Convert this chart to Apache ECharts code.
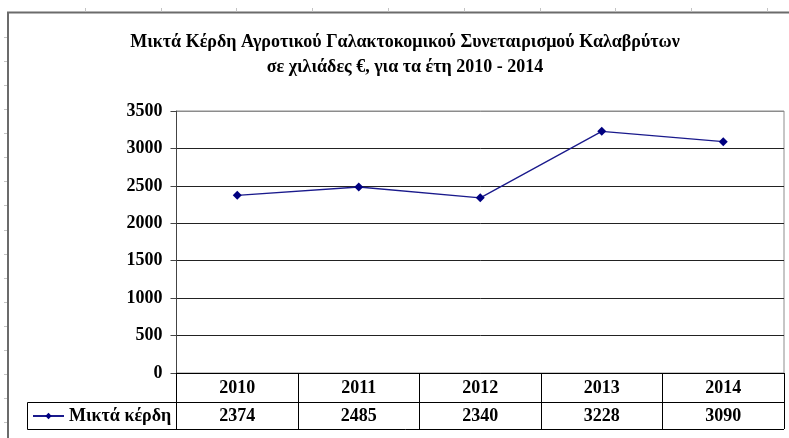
<!DOCTYPE html>
<html><head><meta charset="utf-8">
<script src="https://cdn.jsdelivr.net/npm/echarts@6/dist/echarts.min.js"></script>
<style>html,body{margin:0;padding:0;background:#fff}#c{width:789px;height:438px}</style>
</head><body><div id="c"></div>
<script>
const titleLines = ['Μικτά Κέρδη Αγροτικού Γαλακτοκομικού Συνεταιρισμού Καλαβρύτων', 'σε χιλιάδες €, για τα έτη 2010 - 2014'];
const years = ['2010', '2011', '2012', '2013', '2014'];
const seriesName = 'Μικτά κέρδη';
const values = [2374, 2485, 2340, 3228, 3090];
const yMin = 0, yMax = 3500, yStep = 500;

const FONT = '"Liberation Serif", "Times New Roman", serif';
const FS = 18;
const W = 789, H = 438;
const G = { left: 176.5, right: 5, top: 111, bottom: 65 };
const gridBottomY = H - G.bottom;          // 373
const rowH = 28;
const tableLeft = 27;
const tableRight = W - G.right;

const chart = echarts.init(document.getElementById('c'), null, { renderer: 'canvas' });

// decorations: frame + spreadsheet stubs
const deco = [];
deco.push({ type: 'polyline', silent: true, shape: { points: [[8, H], [8, 12.5], [W, 12.5]] }, style: { stroke: '#6b6b6b', lineWidth: 2, fill: null } });
for (let k = 1; k <= 10; k++) {
  const x = Math.round(9 + 75.8 * k) + 0.5;
  deco.push({ type: 'line', silent: true, shape: { x1: x, y1: 8, x2: x, y2: 11.5 }, style: { stroke: '#c4c4c4', lineWidth: 1 } });
}
for (let k = 0; k < 17; k++) {
  const y = Math.round(36.7 + 24.1 * k) + 0.5;
  deco.push({ type: 'line', silent: true, shape: { x1: 4, y1: y, x2: 7, y2: y }, style: { stroke: '#c4c4c4', lineWidth: 1 } });
}
// table box around legend row
const r1 = gridBottomY + 29 + 0.5, r2 = gridBottomY + 29 + rowH - 0.5;
deco.push({ type: 'polyline', silent: true, shape: { points: [[tableRight, r2], [tableLeft + 0.5, r2], [tableLeft + 0.5, r1], [G.left, r1]] }, style: { stroke: '#000', lineWidth: 1, fill: null } });

const splitColors = [];
for (let v = yMin; v <= yMax; v += yStep) splitColors.push(v === yMax ? '#8c8c8c' : '#222');

chart.setOption({
  animation: false,
  backgroundColor: '#fff',
  title: {
    text: titleLines.join('\n'),
    left: 405, top: 30, textAlign: 'center', padding: 0,
    textStyle: { fontFamily: FONT, fontWeight: 'bold', fontSize: FS, color: '#000', lineHeight: 25 }
  },
  legend: {
    data: [seriesName], left: 32, top: gridBottomY + 29 + 5,
    itemWidth: 31, itemHeight: 8, itemGap: 0,
    textStyle: { fontFamily: FONT, fontWeight: 'bold', fontSize: FS, color: '#000', padding: 0 },
    padding: 0
  },
  grid: { left: G.left, right: G.right, top: G.top, bottom: G.bottom, show: true, borderColor: '#8c8c8c', borderWidth: 1, backgroundColor: 'transparent' },
  xAxis: [
    {
      type: 'category', data: years, boundaryGap: true, position: 'bottom',
      axisLine: { lineStyle: { color: '#000', width: 1 } },
      axisTick: { show: true, length: 29 + rowH - 1, lineStyle: { color: '#000', width: 1 } },
      axisLabel: { margin: 6, fontFamily: FONT, fontWeight: 'bold', fontSize: FS, color: '#000' },
      splitLine: { show: false }
    },
    {
      type: 'category', data: values.map(String), boundaryGap: true, position: 'bottom', offset: 29,
      axisLine: { show: true, lineStyle: { color: '#000', width: 1 } },
      axisTick: { show: false },
      axisLabel: { margin: 5, fontFamily: FONT, fontWeight: 'bold', fontSize: FS, color: '#000' },
      splitLine: { show: false }
    }
  ],
  yAxis: {
    type: 'value', min: yMin, max: yMax, interval: yStep,
    axisLine: { show: true, lineStyle: { color: '#444', width: 1 } },
    axisTick: { show: true, length: 6, lineStyle: { color: '#444' } },
    axisLabel: { margin: 14, fontFamily: FONT, fontWeight: 'bold', fontSize: FS, color: '#000', formatter: v => String(v) },
    splitLine: { show: true, lineStyle: { color: splitColors, width: 1 } }
  },
  series: [{
    name: seriesName, type: 'line', data: values, xAxisIndex: 0,
    symbol: 'diamond', symbolSize: 9,
    itemStyle: { color: '#000080' },
    lineStyle: { color: '#1a1a8c', width: 1.3 }
  }],
  graphic: deco
});
</script></body></html>
